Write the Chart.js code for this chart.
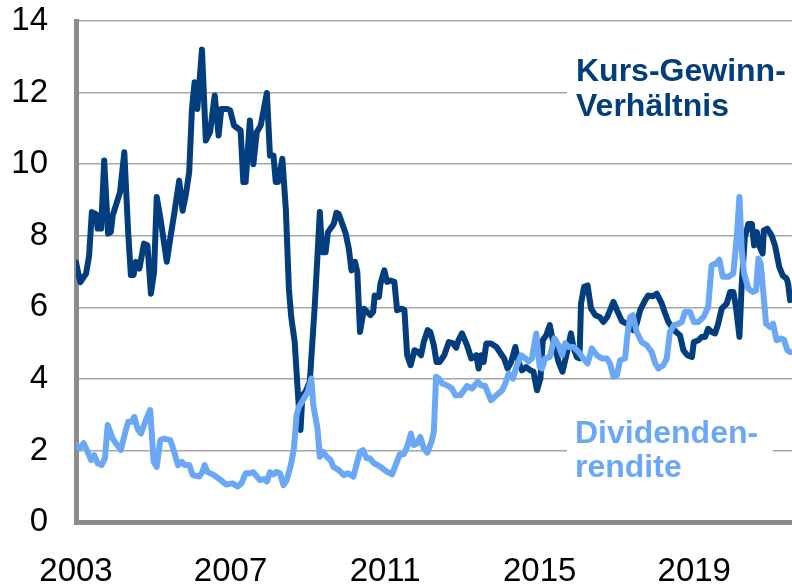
<!DOCTYPE html>
<html>
<head>
<meta charset="utf-8">
<script src="https://cdn.jsdelivr.net/npm/chart.js@4/dist/chart.umd.min.js"></script>
<style>
  html, body { margin: 0; padding: 0; background: #fff; }
  canvas { display: block; }
</style>
</head>
<body>
<canvas id="chart" width="792" height="584"></canvas>
<script>
// Kurs-Gewinn-Verhältnis (dark line)
const kgvYears = [2003.0, 2003.11, 2003.26, 2003.34, 2003.41, 2003.52, 2003.56, 2003.65, 2003.73, 2003.83,
  2003.9, 2003.95, 2004.14, 2004.25, 2004.35, 2004.42, 2004.49, 2004.55, 2004.64, 2004.76,
  2004.85, 2004.94, 2005.02, 2005.09, 2005.2, 2005.35, 2005.45, 2005.54, 2005.67, 2005.76,
  2005.84, 2005.93, 2006.0, 2006.07, 2006.14, 2006.26, 2006.36, 2006.47, 2006.59, 2006.69,
  2006.76, 2006.92, 2006.99, 2007.09, 2007.26, 2007.33, 2007.39, 2007.5, 2007.59, 2007.68,
  2007.78, 2007.94, 2008.02, 2008.11, 2008.17, 2008.23, 2008.34, 2008.43, 2008.51, 2008.57,
  2008.66, 2008.74, 2008.81, 2008.86, 2008.94, 2009.05, 2009.18, 2009.31, 2009.37, 2009.46,
  2009.52, 2009.67, 2009.74, 2009.8, 2009.98, 2010.06, 2010.13, 2010.22, 2010.28, 2010.35,
  2010.45, 2010.58, 2010.62, 2010.69, 2010.73, 2010.84, 2010.88, 2010.98, 2011.05, 2011.14,
  2011.24, 2011.31, 2011.44, 2011.5, 2011.57, 2011.66, 2011.76, 2011.85, 2011.93, 2012.0,
  2012.1, 2012.17, 2012.26, 2012.33, 2012.41, 2012.53, 2012.65, 2012.76, 2012.84, 2012.9,
  2012.99, 2013.12, 2013.23, 2013.36, 2013.42, 2013.48, 2013.55, 2013.62, 2013.74, 2013.88,
  2014.08, 2014.17, 2014.26, 2014.37, 2014.45, 2014.54, 2014.65, 2014.76, 2014.84, 2014.93,
  2015.02, 2015.08, 2015.17, 2015.26, 2015.34, 2015.4, 2015.49, 2015.59, 2015.69, 2015.81,
  2015.88, 2015.96, 2016.03, 2016.07, 2016.15, 2016.24, 2016.33, 2016.44, 2016.55, 2016.65,
  2016.75, 2016.91, 2017.0, 2017.13, 2017.26, 2017.36, 2017.43, 2017.51, 2017.6, 2017.73,
  2017.81, 2017.93, 2018.03, 2018.16, 2018.25, 2018.33, 2018.42, 2018.53, 2018.63, 2018.72,
  2018.82, 2018.94, 2018.99, 2019.11, 2019.19, 2019.28, 2019.36, 2019.45, 2019.54, 2019.62,
  2019.71, 2019.84, 2019.93, 2020.01, 2020.08, 2020.17, 2020.23, 2020.31, 2020.4, 2020.49,
  2020.55, 2020.62, 2020.68, 2020.77, 2020.8, 2020.89, 2021.0, 2021.09, 2021.2, 2021.29,
  2021.39, 2021.43, 2021.48];
const kgvValues = [7.25, 6.7, 6.94, 7.45, 8.66, 8.6, 8.2, 8.2, 10.1, 8.06,
  8.1, 8.57, 9.22, 10.33, 8.1, 6.9, 6.9, 7.27, 7.08, 7.78,
  7.73, 6.38, 6.99, 9.08, 8.38, 7.27, 8.0, 8.6, 9.54, 8.7,
  9.13, 9.78, 11.54, 12.29, 11.54, 13.2, 10.66, 10.9, 11.92, 10.8,
  11.54, 11.54, 11.5, 11.08, 10.94, 9.5, 9.5, 11.22, 10.0, 10.9,
  11.08, 11.99, 10.24, 10.24, 9.5, 9.5, 10.15, 8.75, 6.52, 5.73,
  5.03, 3.64, 2.57, 3.54, 3.64, 3.92, 6.06, 8.66, 7.54, 7.54,
  8.1, 8.33, 8.64, 8.61, 8.06, 7.64, 7.03, 7.27, 6.99, 5.31,
  5.96, 5.82, 5.78, 5.87, 6.33, 6.29, 6.66, 7.03, 6.71, 6.75,
  6.71, 5.92, 5.96, 5.92, 4.66, 4.38, 4.8, 4.75, 4.66, 5.03,
  5.36, 5.31, 4.94, 4.47, 4.47, 4.66, 5.03, 4.99, 4.87, 5.08,
  5.27, 4.94, 4.57, 4.66, 4.29, 4.66, 4.47, 4.99, 4.99, 4.89,
  4.57, 4.29, 4.47, 4.89, 4.47, 4.24, 4.33, 4.24, 4.2, 3.68,
  4.01, 5.08, 5.22, 5.5, 5.08, 4.85, 4.47, 4.2, 4.66, 5.27,
  4.85, 4.61, 4.57, 6.1, 6.57, 6.61, 5.96, 5.78, 5.73, 5.59,
  5.73, 6.15, 5.92, 5.61, 5.54, 5.52, 5.36, 5.54, 5.92, 6.2,
  6.33, 6.31, 6.38, 6.1, 5.82, 5.59, 5.45, 5.31, 5.22, 4.8,
  4.66, 4.61, 5.03, 5.08, 5.17, 5.17, 5.4, 5.31, 5.27, 5.54,
  5.96, 6.1, 6.43, 6.43, 6.01, 5.17, 6.66, 7.96, 8.33, 8.33,
  7.73, 8.1, 7.73, 7.5, 8.15, 8.2, 8.01, 7.73, 7.13, 6.89,
  6.8, 6.66, 6.2];

// Dividendenrendite (light line)
const divYears = [2003.0, 2003.09, 2003.2, 2003.3, 2003.39, 2003.47, 2003.56, 2003.66, 2003.75, 2003.82,
  2003.95, 2004.03, 2004.16, 2004.29, 2004.35, 2004.44, 2004.51, 2004.59, 2004.68, 2004.81,
  2004.92, 2005.01, 2005.09, 2005.18, 2005.28, 2005.44, 2005.54, 2005.64, 2005.74, 2005.82,
  2005.93, 2006.02, 2006.19, 2006.27, 2006.33, 2006.4, 2006.57, 2006.75, 2006.88, 2007.05,
  2007.18, 2007.28, 2007.39, 2007.48, 2007.59, 2007.76, 2007.87, 2007.94, 2008.02, 2008.11,
  2008.19, 2008.28, 2008.37, 2008.45, 2008.56, 2008.64, 2008.71, 2008.77, 2008.9, 2009.0,
  2009.09, 2009.14, 2009.25, 2009.31, 2009.4, 2009.49, 2009.59, 2009.66, 2009.8, 2009.93,
  2010.04, 2010.18, 2010.28, 2010.35, 2010.43, 2010.52, 2010.6, 2010.71, 2010.81, 2010.88,
  2011.05, 2011.18, 2011.29, 2011.38, 2011.48, 2011.57, 2011.67, 2011.74, 2011.83, 2011.91,
  2012.0, 2012.09, 2012.2, 2012.26, 2012.32, 2012.39, 2012.48, 2012.6, 2012.73, 2012.82,
  2012.95, 2013.12, 2013.25, 2013.4, 2013.48, 2013.59, 2013.74, 2013.88, 2014.03, 2014.11,
  2014.2, 2014.31, 2014.41, 2014.52, 2014.63, 2014.71, 2014.8, 2014.91, 2015.0, 2015.06,
  2015.14, 2015.26, 2015.38, 2015.49, 2015.58, 2015.66, 2015.75, 2015.88, 2016.01, 2016.13,
  2016.24, 2016.35, 2016.48, 2016.61, 2016.74, 2016.82, 2016.91, 2017.0, 2017.08, 2017.21,
  2017.27, 2017.34, 2017.41, 2017.51, 2017.64, 2017.77, 2017.9, 2017.99, 2018.07, 2018.2,
  2018.29, 2018.37, 2018.48, 2018.59, 2018.68, 2018.76, 2018.89, 2018.99, 2019.11, 2019.24,
  2019.36, 2019.45, 2019.56, 2019.65, 2019.74, 2019.88, 2020.01, 2020.1, 2020.17, 2020.23,
  2020.29, 2020.4, 2020.51, 2020.6, 2020.66, 2020.72, 2020.79, 2020.86, 2020.96, 2021.04,
  2021.13, 2021.24, 2021.32, 2021.41, 2021.48];
const divValues = [2.15, 2.06, 2.2, 1.96, 1.73, 1.87, 1.64, 1.59, 1.78, 2.71,
  2.33, 2.2, 2.01, 2.57, 2.8, 2.8, 2.94, 2.61, 2.47, 2.85,
  3.13, 1.68, 1.54, 2.29, 2.33, 2.29, 1.96, 1.59, 1.68, 1.59,
  1.59, 1.31, 1.27, 1.4, 1.59, 1.4, 1.31, 1.17, 1.05, 1.08,
  0.99, 1.08, 1.36, 1.36, 1.39, 1.17, 1.2, 1.13, 1.39, 1.33,
  1.4, 1.36, 1.03, 1.17, 1.59, 2.06, 2.99, 3.22, 3.45, 3.64,
  4.01, 3.27, 2.61, 1.82, 1.96, 1.82, 1.73, 1.54, 1.45, 1.31,
  1.36, 1.27, 1.68, 1.96, 2.01, 1.78, 1.78, 1.64, 1.59, 1.54,
  1.4, 1.33, 1.64, 1.89, 1.89, 2.1, 2.47, 2.15, 2.2, 2.38,
  2.06, 1.94, 2.24, 2.52, 4.06, 4.01, 3.87, 3.82, 3.73, 3.54,
  3.54, 3.8, 3.73, 3.92, 3.82, 3.8, 3.4, 3.54, 3.68, 3.87,
  4.15, 4.01, 4.38, 4.66, 4.57, 4.49, 4.57, 5.27, 4.33, 4.29,
  4.57, 4.61, 5.13, 4.94, 4.66, 4.99, 4.89, 4.89, 4.75, 4.57,
  4.43, 4.85, 4.66, 4.57, 4.57, 4.43, 4.06, 4.1, 4.52, 4.57,
  5.22, 5.73, 5.78, 5.31, 5.03, 4.94, 4.75, 4.43, 4.29, 4.38,
  4.57, 5.31, 5.5, 5.54, 5.59, 5.87, 5.87, 5.59, 5.59, 5.73,
  6.01, 7.17, 7.22, 7.33, 6.85, 6.85, 6.94, 7.96, 9.08, 7.59,
  6.94, 6.52, 6.43, 6.47, 7.36, 7.22, 6.38, 5.54, 5.45, 5.54,
  5.08, 5.13, 5.1, 4.8, 4.75];

const yearTicks = [2003, 2007, 2011, 2015, 2019];
const yMin = 0;
const yMax = 14;
const yStep = 2;

const darkBlue = '#023e7d';
const lightBlue = '#6aa8f6';
const fontFamily = '"Liberation Sans", Arial, sans-serif';

const seriesLabels = {
  id: 'seriesLabels',
  beforeDatasetsDraw(chart) {
    const ctx = chart.ctx;
    ctx.save();
    ctx.fillStyle = '#fff';
    ctx.fillRect(567, 52, 225, 74);
    ctx.fillRect(567, 413, 206, 74);
    ctx.font = 'bold 32px ' + fontFamily;
    ctx.textBaseline = 'alphabetic';
    ctx.textAlign = 'left';
    ctx.fillStyle = darkBlue;
    ctx.fillText('Kurs-Gewinn-', 576, 81);
    ctx.fillText('Verhältnis', 576, 116);
    ctx.fillStyle = lightBlue;
    ctx.fillText('Dividenden-', 575, 443);
    ctx.fillText('rendite', 575, 477);
    ctx.restore();
  }
};

const toPoints = (xs, ys) => xs.map((x, i) => ({x: x, y: ys[i]}));

new Chart(document.getElementById('chart'), {
  type: 'line',
  data: {
    datasets: [
      {
        label: 'Kurs-Gewinn-Verhältnis',
        data: toPoints(kgvYears, kgvValues),
        borderColor: darkBlue,
        borderWidth: 6,
        order: 1
      },
      {
        label: 'Dividendenrendite',
        data: toPoints(divYears, divValues),
        borderColor: lightBlue,
        borderWidth: 6,
        order: 0
      }
    ]
  },
  options: {
    responsive: false,
    animation: false,
    layout: {padding: {top: 21, right: 0, left: 0, bottom: 0}},
    elements: {
      point: {radius: 0},
      line: {tension: 0, borderJoinStyle: 'round', borderCapStyle: 'round'}
    },
    plugins: {legend: {display: false}, tooltip: {enabled: false}},
    scales: {
      x: {
        type: 'linear',
        min: 2003,
        max: 2021.53,
        grid: {display: false, drawTicks: false},
        border: {display: true, color: '#8c8c8c', width: 5},
        afterBuildTicks: s => { s.ticks = yearTicks.map(v => ({value: v})); },
        afterFit: s => {
          s.height = 62;
          s.paddingLeft = 0;
          s.paddingRight = 0;
        },
        ticks: {
          color: '#000',
          font: {family: fontFamily, size: 33},
          padding: 30,
          maxRotation: 0,
          autoSkip: false,
          callback: v => String(v)
        }
      },
      y: {
        min: yMin,
        max: yMax,
        grid: {color: '#a6a6a6', lineWidth: 1.5, drawTicks: false},
        border: {display: true, color: '#8c8c8c', width: 5},
        afterFit: s => {
          s.width = 76;
          s.paddingTop = 0;
          s.paddingBottom = 0;
        },
        ticks: {
          stepSize: yStep,
          color: '#000',
          font: {family: fontFamily, size: 33},
          padding: 28
        }
      }
    }
  },
  plugins: [seriesLabels]
});
</script>
</body>
</html>
